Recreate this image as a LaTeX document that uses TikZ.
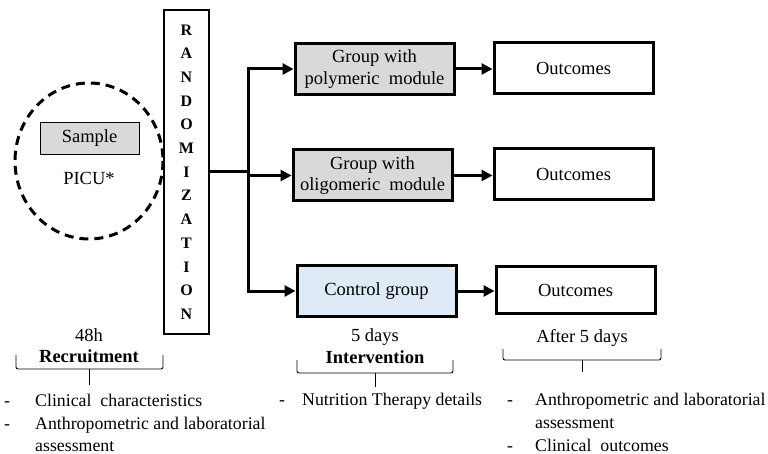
\documentclass[tikz,border=0pt]{standalone}
\usepackage{fontspec}
\setmainfont{Liberation Serif}
\usetikzlibrary{arrows.meta,calc}
\definecolor{boxgray}{HTML}{D9D9D9}
\definecolor{boxblue}{HTML}{DEEBF7}
\tikzset{
  mainfont/.style={font=\fontsize{18.5}{21.5}\selectfont},
  listfont/.style={font=\fontsize{17.8}{21.5}\selectfont},
  boldfont/.style={font=\bfseries\fontsize{18.5}{21.5}\selectfont},
  grpbox/.style={draw=black, line width=3pt, minimum width=159pt, minimum height=51pt, inner sep=0pt, align=center, mainfont},
  conn/.style={line width=3pt},
  arr/.style={line width=3pt, -{Triangle[length=11pt,width=11pt]}},
  brace/.style={line width=0.9pt, rounded corners=2pt},
  lbl/.style={mainfont, inner sep=0pt, text height=12.5pt, text depth=4pt},
  lblw/.style={lbl, listfont, anchor=west},
}
\begin{document}
\begin{tikzpicture}[x=1pt,y=-1pt]
\useasboundingbox (0,0) rectangle (768,454);

% recruitment circle
\draw[line width=3pt, dash pattern=on 9pt off 6pt] (89,161) ellipse [x radius=74, y radius=78];
\node[draw=black, line width=0.9pt, fill=boxgray, minimum width=99pt, minimum height=32pt, inner sep=0pt, mainfont] (sample) at (89.5,138) {Sample};
\node[lbl] (picu) at (89,180) {PICU*};

% randomization
\node[draw=black, line width=2.3pt, minimum width=45pt, minimum height=324pt, inner sep=0pt, align=center, font=\bfseries\fontsize{16}{23.7}\selectfont] (rand) at (186.5,172) {R\\A\\N\\D\\O\\M\\I\\Z\\A\\T\\I\\O\\N};

% groups
\node[grpbox, fill=boxgray] (g1) at (374.5,69) {Group with\\polymeric\ \ module};
\node[grpbox, fill=boxgray] (g2) at (372.5,175.5) {Group with\\oligomeric\ \ module};
\node[grpbox, fill=boxblue] (g3) at (376.5,291) {Control group};

% outcomes
\node[grpbox] (o1) at (573.5,68) {Outcomes};
\node[grpbox] (o2) at (573.5,174.5) {Outcomes};
\node[grpbox, minimum height=47pt] (o3) at (575.5,290) {Outcomes};

% connectors
\coordinate (split) at (248,172);
\coordinate (jt) at (split |- g1.west);
\coordinate (jm) at (split |- g2.west);
\coordinate (jb) at (split |- g3.west);
\draw[conn] (rand.east) -- (split);
\draw[conn] ([yshift=-1.5pt]jt) -- ([yshift=1.5pt]jb);
\draw[arr] ([xshift=-1.5pt]jt) -- (g1.west);
\draw[arr] (jm) -- (g2.west);
\draw[arr] ([xshift=-1.5pt]jb) -- (g3.west);
\draw[arr] (g1.east) -- (g1.east -| o1.west);
\draw[arr] (g2.east) -- (g2.east -| o2.west);
\draw[arr] (g3.east) -- (g3.east -| o3.west);

% bottom labels
\node[lbl] (t48) at (89,337) {48h};
\node[lbl, boldfont] (trec) at (89,358) {Recruitment};
\node[lbl] (t5d) at (375,337) {5 days};
\node[lbl, boldfont] (tint) at (375,359) {Intervention};
\node[lbl] (taft) at (582,338) {After 5 days};

% braces
\draw[brace] (16,355) -- (16,369) -- (163,369) -- (163,355);
\draw[line width=0.9pt] (89,369) -- (89,385);
\draw[brace] (297,360) -- (297,373) -- (453,373) -- (453,360);
\draw[line width=0.9pt] (375,373) -- (375,387);
\draw[brace] (503,349) -- (503,360) -- (661,360) -- (661,349);
\draw[line width=0.9pt] (582,360) -- (582,372);

% bullet lists
\node[lblw] (d1) at (4,402) {-};
\node[lblw] (b1) at (35,402) {Clinical\ \ characteristics};
\node[lblw] (d2) at (4,425) {-};
\node[lblw] (b2) at (35,425) {Anthropometric and laboratorial};
\node[lblw] (b3) at (35,447) {assessment};

\node[lblw] (d3) at (279,401) {-};
\node[lblw] (b4) at (302,401) {Nutrition Therapy details};

\node[lblw] (d4) at (507,401) {-};
\node[lblw] (b5) at (535,401) {Anthropometric and laboratorial};
\node[lblw] (b6) at (535,424) {assessment};
\node[lblw] (d5) at (507,447) {-};
\node[lblw] (b7) at (535,447) {Clinical\ \ outcomes};
\end{tikzpicture}
\end{document}
